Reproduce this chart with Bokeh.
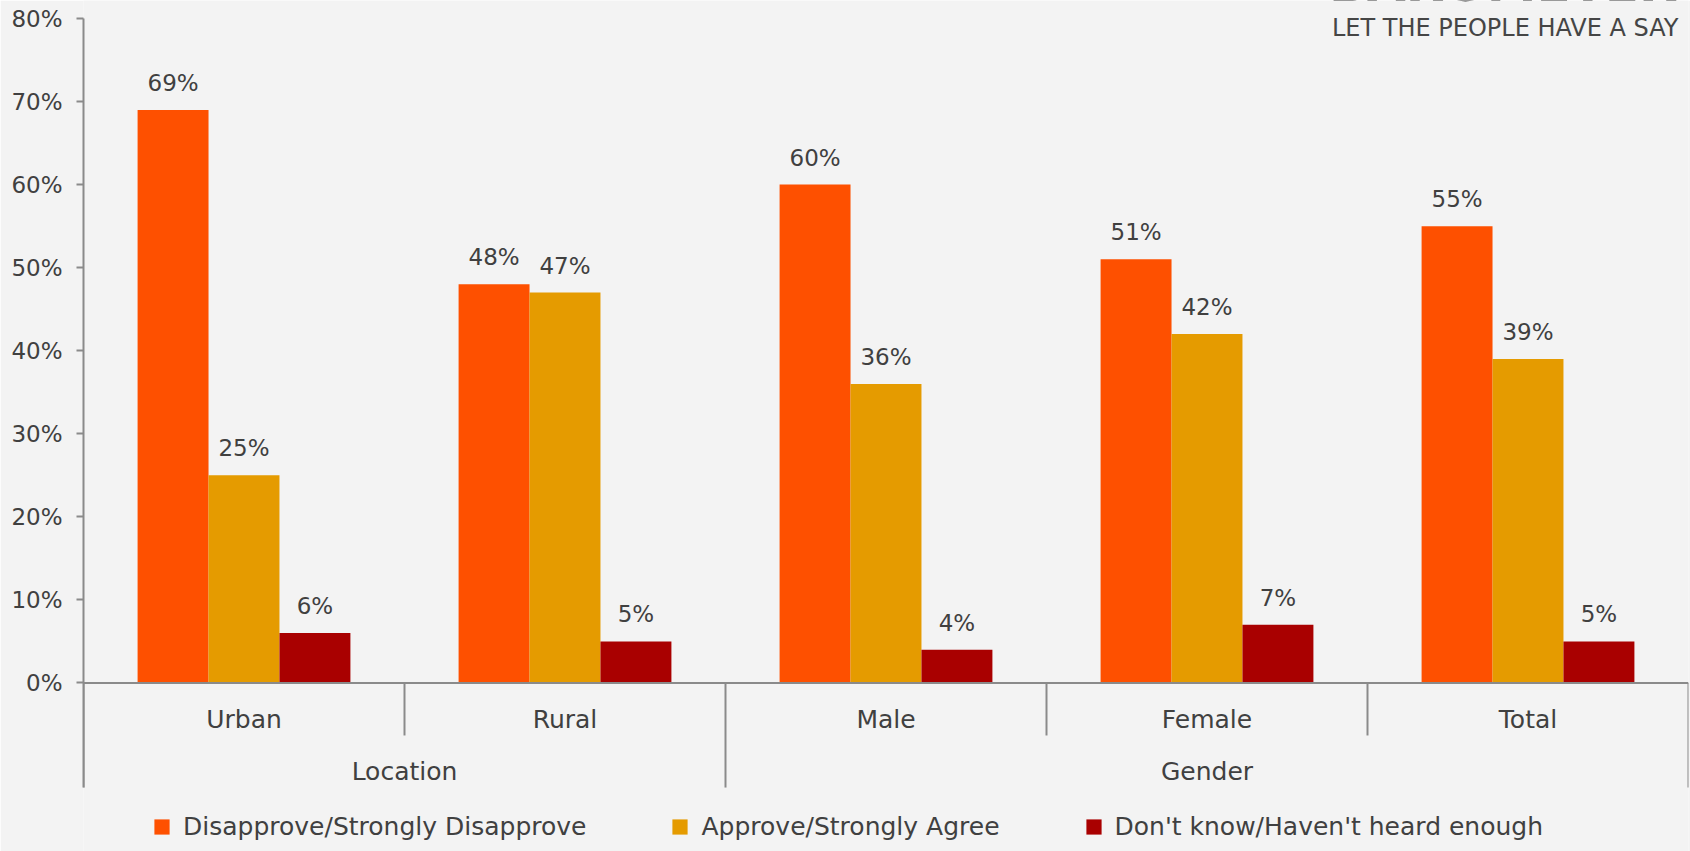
from bokeh.plotting import figure
from bokeh.models import (FactorRange, Range1d, ColumnDataSource, FixedTicker,
                          PrintfTickFormatter, Span, Label)
from bokeh.transform import dodge
from bokeh.embed import file_html
from bokeh.resources import INLINE
from bokeh.core.properties import value

# ---------------- data ----------------
CATEGORIES = ["Urban", "Rural", "Male", "Female", "Total"]
GROUPS = ["Location", "Location", "Gender", "Gender", "Gender"]
SERIES = ["Disapprove/Strongly Disapprove", "Approve/Strongly Agree",
          "Don't know/Haven't heard enough"]
DISAPPROVE = [69, 48, 60, 51, 55]
APPROVE = [25, 47, 36, 42, 39]
DONT_KNOW = [6, 5, 4, 7, 5]
Y_TICKS = [0, 10, 20, 30, 40, 50, 60, 70, 80]
BRAND = "BAROMETER"
TAGLINE = "LET THE PEOPLE HAVE A SAY"

# ---------------- style ----------------
COLORS = ["#fe5000", "#e59b00", "#a90000"]
BG = "#f3f3f3"
TEXT = "#404040"
AXIS = "#8a8a8a"
FONT = "DejaVu Sans"
BAR_W = 0.221
SEP_SHORT = -6.33
SEP_LONG = -12.6

p = figure(x_range=FactorRange(factors=CATEGORIES, range_padding=0),
           y_range=Range1d(-20.3, 82.17),
           width=1690, height=851, output_backend="svg", toolbar_location=None,
           x_axis_location=None, min_border_left=83, min_border_right=2,
           min_border_top=0, min_border_bottom=0)
p.background_fill_color = BG
p.border_fill_color = BG
p.outline_line_color = None
p.grid.visible = False

src = ColumnDataSource(dict(cat=CATEGORIES, d=DISAPPROVE, a=APPROVE, k=DONT_KNOW,
                            dl=[f"{v}%" for v in DISAPPROVE],
                            al=[f"{v}%" for v in APPROVE],
                            kl=[f"{v}%" for v in DONT_KNOW]))

cols = [("d", "dl"), ("a", "al"), ("k", "kl")]
offsets = [-BAR_W, 0.0, BAR_W]
for (col, lab), off, color, name in zip(cols, offsets, COLORS, SERIES):
    xx = dodge("cat", off, range=p.x_range)
    p.vbar(x=xx, top=col, bottom=0, width=BAR_W, source=src, fill_color=color,
           line_color=None, legend_label=name)
    p.text(x=xx, y=col, text=lab, source=src, text_align="center",
           text_baseline="alphabetic", y_offset=-27, text_color=TEXT,
           text_font=value(FONT), text_font_size="23px")

# zero line
p.add_layout(Span(location=0, dimension="width", line_color=AXIS, line_width=2))

# category separators
bx, by = [], []
for i in range(len(CATEGORIES) + 1):
    long_sep = i == 0 or i == len(CATEGORIES) or GROUPS[i] != GROUPS[i - 1]
    bx.append(i)
    by.append(SEP_LONG if long_sep else SEP_SHORT)
p.segment(x0=bx, y0=[0] * len(bx), x1=bx, y1=by, line_color=AXIS, line_width=2)

# category labels
p.text(x="cat", y=0, text="cat", source=src, text_align="center",
       text_baseline="alphabetic", y_offset=37, text_color=TEXT,
       text_font=value(FONT), text_font_size="25px")

# group labels
gnames, gcenters = [], []
i = 0
while i < len(GROUPS):
    j = i
    while j + 1 < len(GROUPS) and GROUPS[j + 1] == GROUPS[i]:
        j += 1
    gnames.append(GROUPS[i])
    gcenters.append((i + j + 1) / 2)
    i = j + 1
p.text(x=gcenters, y=[0] * len(gcenters), text=gnames, text_align="center",
       text_baseline="alphabetic", y_offset=89, text_color=TEXT,
       text_font=value(FONT), text_font_size="25px")

# y axis
ax = p.yaxis[0]
ax.ticker = FixedTicker(ticks=Y_TICKS)
ax.formatter = PrintfTickFormatter(format="%d%%")
ax.bounds = (SEP_LONG, 80)
ax.axis_line_color = AXIS
ax.axis_line_width = 2
ax.major_tick_line_color = AXIS
ax.major_tick_line_width = 2
ax.major_tick_out = 7
ax.major_tick_in = 0
ax.minor_tick_line_color = None
ax.major_label_standoff = 14
ax.major_label_text_color = TEXT
ax.major_label_text_font = FONT
ax.major_label_text_font_size = "23px"

# brand (cut off at the top edge, as in the original) + tagline
p.add_layout(Label(x=len(CATEGORIES), y=84.15, x_offset=-11, text=BRAND,
                   text_align="right", text_baseline="alphabetic",
                   text_color="#3a3a3a", text_font=FONT, text_font_size="50px",
                   text_font_style="bold"))
p.add_layout(Label(x=len(CATEGORIES), y=78.9, x_offset=-10, text=TAGLINE,
                   text_align="right", text_baseline="alphabetic",
                   text_color="#454545", text_font=FONT, text_font_size="24px"))

# legend
lg = p.legend[0]
lg.orientation = "horizontal"
lg.location = (69, 10)
lg.spacing = 84
lg.padding = 0
lg.margin = 0
lg.border_line_color = None
lg.background_fill_alpha = 0
lg.glyph_width = 19
lg.glyph_height = 19
lg.label_standoff = 12
lg.label_text_font = FONT
lg.label_text_font_size = "25px"
lg.label_text_color = TEXT

open("out.html", "w").write(file_html(p, INLINE))
